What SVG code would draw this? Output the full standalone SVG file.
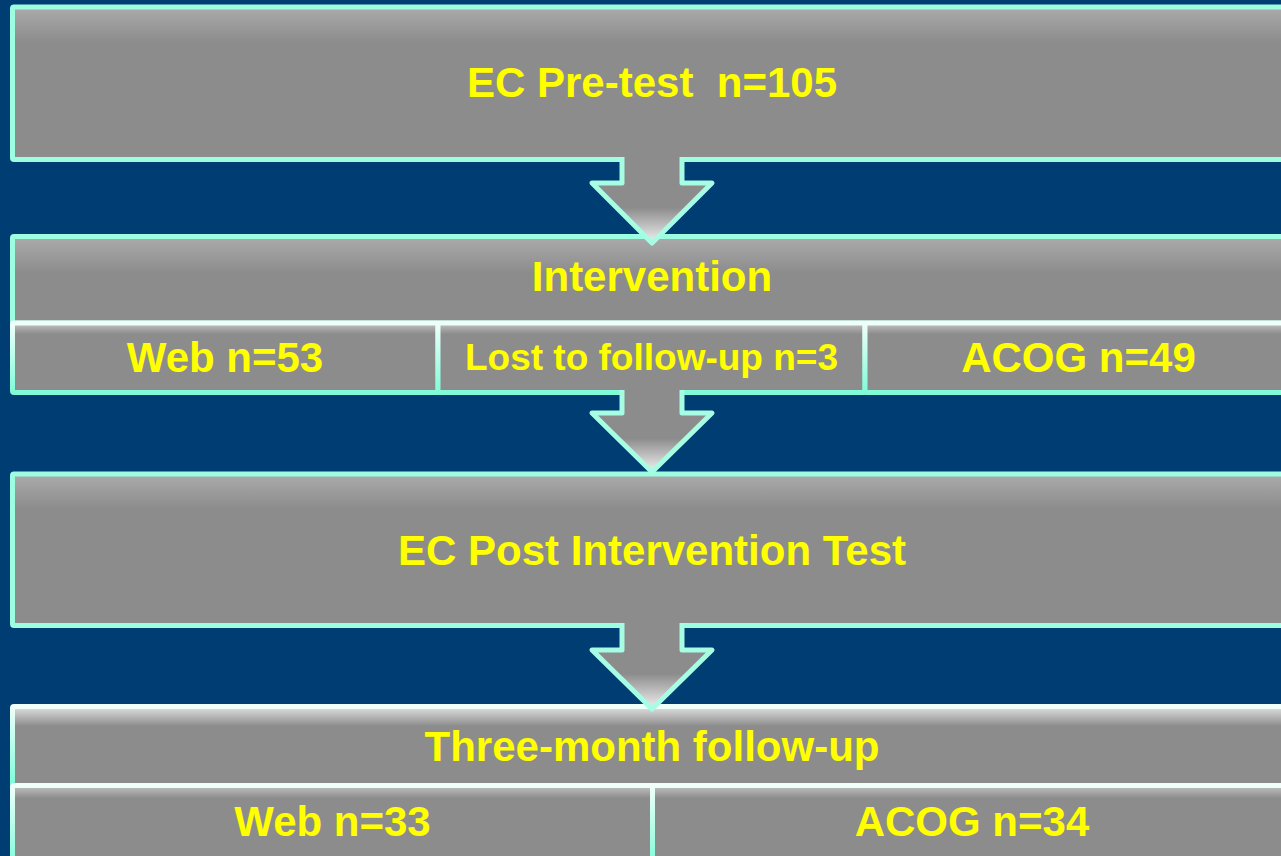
<svg xmlns="http://www.w3.org/2000/svg" width="1281" height="856" viewBox="0 0 1281 856">
  <defs>
    <linearGradient id="gMain" x1="0" y1="0" x2="0" y2="1">
      <stop offset="0" stop-color="#ababab"/>
      <stop offset="0.23" stop-color="#8c8c8c"/>
      <stop offset="1" stop-color="#8c8c8c"/>
    </linearGradient>
    <linearGradient id="gHead" x1="0" y1="0" x2="0" y2="1">
      <stop offset="0" stop-color="#ababab"/>
      <stop offset="0.42" stop-color="#8c8c8c"/>
      <stop offset="1" stop-color="#8c8c8c"/>
    </linearGradient>
    <linearGradient id="gHead4" x1="0" y1="0" x2="0" y2="1">
      <stop offset="0" stop-color="#e2e2e2"/>
      <stop offset="0.25" stop-color="#8c8c8c"/>
      <stop offset="1" stop-color="#8c8c8c"/>
    </linearGradient>
    <linearGradient id="gSub" x1="0" y1="0" x2="0" y2="1">
      <stop offset="0" stop-color="#c4c4c4"/>
      <stop offset="0.16" stop-color="#8c8c8c"/>
      <stop offset="1" stop-color="#8c8c8c"/>
    </linearGradient>
    <linearGradient id="gEdge" x1="0" y1="0" x2="0" y2="1">
      <stop offset="0" stop-color="#f0fffa"/>
      <stop offset="1" stop-color="#7ffbd8"/>
    </linearGradient>
    <linearGradient id="gArrow" x1="0" y1="0" x2="0" y2="1">
      <stop offset="0" stop-color="#8c8c8c"/>
      <stop offset="0.6" stop-color="#8c8c8c"/>
      <stop offset="1" stop-color="#f2f2f2"/>
    </linearGradient>
    <style>
      .main { fill: url(#gMain); stroke: #9cfde0; stroke-width: 5; }
      .head { fill: url(#gHead); stroke: #9cfde0; stroke-width: 5; }
      .head4 { fill: url(#gHead4); stroke: url(#gEdge); stroke-width: 5; }
      .sub { fill: url(#gSub); stroke: url(#gEdge); stroke-width: 5; }
      .afill { fill: url(#gArrow); stroke: none; }
      .aline { fill: none; stroke: #a6fde4; stroke-width: 5; stroke-linejoin: round; stroke-linecap: butt; }
      .t { font-family: "Liberation Sans", Arial, sans-serif; font-weight: bold; fill: #ffff00; text-anchor: middle; }
      .big { font-size: 42px; }
      .small { font-size: 37px; }
    </style>
  </defs>
  <rect x="0" y="0" width="1281" height="856" fill="#003d73"/>

  <g id="node-pretest">
    <rect class="main" x="12.5" y="7" width="1280" height="152.5" rx="1.5"/>
    <text class="t big" x="652" y="97" xml:space="preserve">EC Pre-test  n=105</text>
  </g>

  <g id="node-intervention">
    <rect class="head" x="12.5" y="236.5" width="1280" height="86.5" rx="1.5"/>
    <text class="t big" x="652" y="291">Intervention</text>
  </g>
  <g id="node-web1">
    <rect class="sub" x="12.5" y="323" width="425.5" height="69.5" rx="1.5"/>
    <text class="t big" x="225" y="372">Web n=53</text>
  </g>
  <g id="node-lost">
    <rect class="sub" x="438" y="323" width="427" height="69.5" rx="1.5"/>
    <text class="t small" x="651.5" y="370">Lost to follow-up n=3</text>
  </g>
  <g id="node-acog1">
    <rect class="sub" x="865" y="323" width="427" height="69.5" rx="1.5"/>
    <text class="t big" x="1078.5" y="372">ACOG n=49</text>
  </g>

  <g id="node-posttest">
    <rect class="main" x="12.5" y="474" width="1280" height="151.5" rx="1.5"/>
    <text class="t big" x="652" y="565">EC Post Intervention Test</text>
  </g>

  <g id="node-followup">
    <rect class="head4" x="12.5" y="706.5" width="1280" height="79" rx="1.5"/>
    <text class="t big" x="652" y="761">Three-month follow-up</text>
  </g>
  <g id="node-web2">
    <rect class="sub" x="12.5" y="785.5" width="640" height="80" rx="1.5"/>
    <text class="t big" x="332.5" y="836">Web n=33</text>
  </g>
  <g id="node-acog2">
    <rect class="sub" x="652.5" y="785.5" width="640" height="80" rx="1.5"/>
    <text class="t big" x="972" y="836">ACOG n=34</text>
  </g>

  <g id="connectors">
    <g id="arrow1">
      <polygon class="afill" points="622,155 622,183 592,183 652,243 712,183 682,183 682,155"/>
      <polyline class="aline" points="622,157 622,183 592,183 652,243 712,183 682,183 682,157"/>
    </g>
    <g id="arrow2">
      <polygon class="afill" points="622,388 622,413 592,413 652,472 712,413 682,413 682,388"/>
      <polyline class="aline" points="622,390 622,413 592,413 652,472 712,413 682,413 682,390"/>
    </g>
    <g id="arrow3">
      <polygon class="afill" points="622,621 622,650 592,650 652,709 712,650 682,650 682,621"/>
      <polyline class="aline" points="622,623 622,650 592,650 652,709 712,650 682,650 682,623"/>
    </g>
  </g>
</svg>
